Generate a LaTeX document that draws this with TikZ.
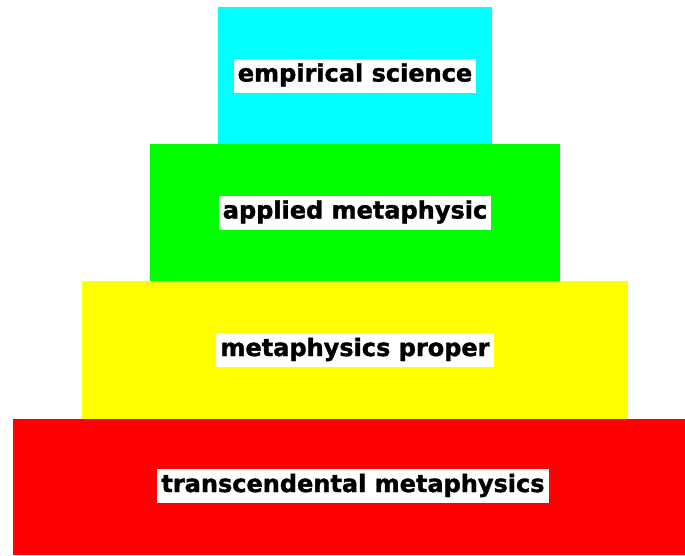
\documentclass[tikz,border=0pt]{standalone}
\usepackage{fontspec}
\newfontfamily\labelfont{DejaVu Sans Bold}[FakeBold=1.5]
\begin{document}
\begin{tikzpicture}[x=1pt,y=-1pt,
  tier/.style={draw=none,inner sep=0pt,outer sep=0pt,anchor=north west},
  lbl/.style={fill=white,inner xsep=4pt,inner ysep=5pt,text height=18pt,text depth=6pt,
    font=\labelfont\fontsize{24}{28}\selectfont,text=black}]
\useasboundingbox (0,0) rectangle (685,555);
\fill[white] (0,0) rectangle (685,555);
\node[tier,fill={rgb,255:red,0;green,255;blue,255},minimum width=274pt,minimum height=137pt] (cy) at (218,7) {};
\node[tier,fill={rgb,255:red,0;green,255;blue,0},minimum width=410pt,minimum height=137pt] (gr) at (150,144) {};
\node[tier,fill={rgb,255:red,255;green,255;blue,0},minimum width=546pt,minimum height=138pt] (ye) at (82,281) {};
\node[tier,fill={rgb,255:red,255;green,0;blue,0},minimum width=672pt,minimum height=136pt] (re) at (13,419) {};
\node[lbl] (l1) at (cy.center) {empirical science};
\node[lbl] (l2) at (gr.center) {applied metaphysic};
\node[lbl] (l3) at (ye.center) {metaphysics proper};
\node[lbl] (l4) at (353,486) {transcendental metaphysics};
\end{tikzpicture}
\end{document}
